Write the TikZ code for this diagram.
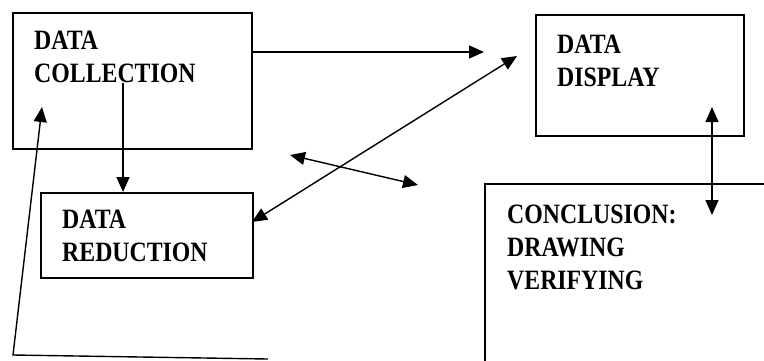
\documentclass[tikz,border=0pt]{standalone}
\usepackage{fontspec}
\usetikzlibrary{arrows.meta}
\newfontfamily\lblfont{Liberation Serif}[FakeStretch=0.85]
\tikzset{
  box/.style={draw, line width=1.8pt, inner sep=0pt, anchor=north west},
  lbl/.style={font=\lblfont\bfseries\fontsize{28}{33}\selectfont, anchor=north west, inner sep=0pt, align=left},
  arr/.style={line width=1.4pt, -{Triangle[length=15pt,width=13pt]}},
  darr/.style={line width=1.4pt, {Triangle[length=15pt,width=13pt]}-{Triangle[length=15pt,width=13pt]}}
}
\begin{document}
\begin{tikzpicture}[x=1pt,y=-1pt]
\useasboundingbox (0,0) rectangle (764,360);
% boxes
\node[box, minimum width=239pt, minimum height=136pt] (coll) at (12,12) {};
\node[box, minimum width=208pt, minimum height=121pt] (disp) at (535,14) {};
\node[box, minimum width=212pt, minimum height=85pt] (red) at (40,192) {};
\coordinate (concBL) at (485,362);
\coordinate (concTL) at (485,184);
\coordinate (concTR) at (766,184);
\draw[line width=1.8pt] (concBL) -- (concTL) -- (concTR);
% labels
\node[lbl] (tcoll) at (34,31) {DATA\\COLLECTION};
\node[lbl] (tdisp) at (557,35) {DATA\\DISPLAY};
\node[lbl] (tred) at (62,210) {DATA\\REDUCTION};
\node[lbl] (tconc) at (507,205) {CONCLUSION:\\DRAWING\\VERIFYING};
% connectors
\coordinate (a1) at (484,52);
\draw[arr] (coll.east |- a1) -- (a1);
\coordinate (dtip) at (517,56);
\coordinate (rtip) at (252,222);
\draw[darr] (rtip) -- (dtip);
\coordinate (s1) at (290,155);
\coordinate (s2) at (418,185);
\draw[darr] (s1) -- (s2);
\coordinate (v1) at (712,107);
\coordinate (v2) at (712,215);
\draw[darr] (v1) -- (v2);
\coordinate (cr) at (123,83);
\draw[arr] (cr) -- (cr |- red.north);
\coordinate (f0) at (268,359);
\coordinate (f1) at (13,355);
\coordinate (f2) at (42,107);
\draw[arr] (f0) -- (f1) -- (f2);
\end{tikzpicture}
\end{document}
